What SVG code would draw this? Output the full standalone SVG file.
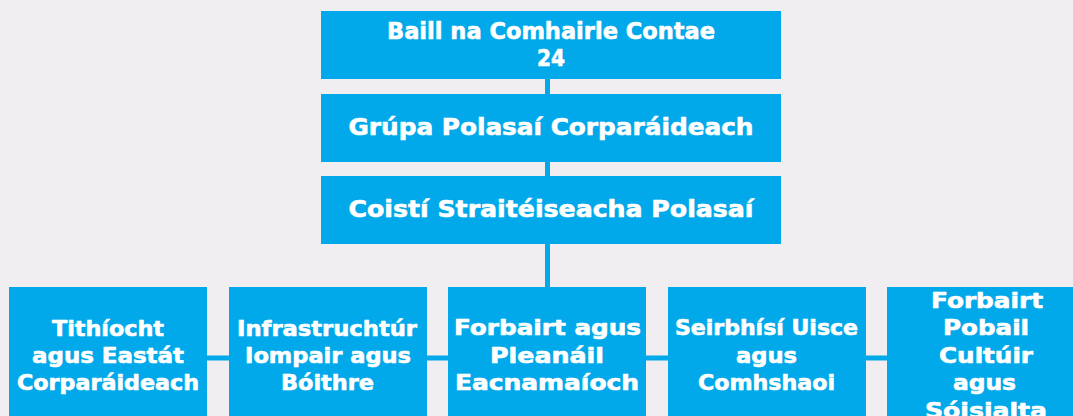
<svg xmlns="http://www.w3.org/2000/svg" width="1073" height="416" viewBox="0 0 1073 416">
<style>
.bg{fill:#F0EEF1}
.box{fill:#02A9EA}
.conn{stroke:#02A9EA;stroke-width:5;fill:none}
.t{font-family:"DejaVu Sans","Liberation Sans",sans-serif;font-weight:bold;fill:#FFFFFF;stroke:#FFFFFF;stroke-width:0.6;stroke-linejoin:round;text-anchor:middle}
.tl{font-size:22.5px}
.ts{font-size:20.5px}
</style>
<rect class="bg" x="0" y="0" width="1073" height="416"/>
<g id="connectors">
<line class="conn" x1="547.5" y1="79" x2="547.5" y2="94"/>
<line class="conn" x1="547.5" y1="162" x2="547.5" y2="176"/>
<line class="conn" x1="547.5" y1="244" x2="547.5" y2="287"/>
<line class="conn" x1="207" y1="358" x2="887" y2="358"/>
</g>
<g id="baill">
<rect class="box" x="321" y="11" width="460" height="68"/>
<text class="t tl" x="551" y="39" textLength="328" lengthAdjust="spacingAndGlyphs">Baill na Comhairle Contae</text>
<text class="t tl" x="551" y="66" textLength="28" lengthAdjust="spacingAndGlyphs">24</text>
</g>
<g id="grupa">
<rect class="box" x="321" y="94" width="460" height="68"/>
<text class="t tl" x="551" y="135" textLength="405" lengthAdjust="spacingAndGlyphs">Grúpa Polasaí Corparáideach</text>
</g>
<g id="coisti">
<rect class="box" x="321" y="176" width="460" height="68"/>
<text class="t tl" x="551" y="217" textLength="405" lengthAdjust="spacingAndGlyphs">Coistí Straitéiseacha Polasaí</text>
</g>
<g id="tithiocht">
<rect class="box" x="9" y="287" width="198" height="140"/>
<text class="t ts" x="108" y="336" textLength="112" lengthAdjust="spacingAndGlyphs">Tithíocht</text>
<text class="t ts" x="108" y="363" textLength="152" lengthAdjust="spacingAndGlyphs">agus Eastát</text>
<text class="t ts" x="108" y="390" textLength="182" lengthAdjust="spacingAndGlyphs">Corparáideach</text>
</g>
<g id="infrastruchtur">
<rect class="box" x="229" y="287" width="198" height="140"/>
<text class="t ts" x="327" y="336" textLength="180" lengthAdjust="spacingAndGlyphs">Infrastruchtúr</text>
<text class="t ts" x="328" y="363" textLength="166" lengthAdjust="spacingAndGlyphs">Iompair agus</text>
<text class="t ts" x="327.5" y="390" textLength="93" lengthAdjust="spacingAndGlyphs">Bóithre</text>
</g>
<g id="forbairt">
<rect class="box" x="448" y="287" width="198" height="140"/>
<text class="t ts" x="547.5" y="335" textLength="187" lengthAdjust="spacingAndGlyphs">Forbairt agus</text>
<text class="t ts" x="547" y="363" textLength="114" lengthAdjust="spacingAndGlyphs">Pleanáil</text>
<text class="t ts" x="547" y="390" textLength="184" lengthAdjust="spacingAndGlyphs">Eacnamaíoch</text>
</g>
<g id="seirbhisi">
<rect class="box" x="668" y="287" width="198" height="140"/>
<text class="t ts" x="766.5" y="335" textLength="183" lengthAdjust="spacingAndGlyphs">Seirbhísí Uisce</text>
<text class="t ts" x="766.5" y="363" textLength="61" lengthAdjust="spacingAndGlyphs">agus</text>
<text class="t ts" x="766.5" y="390" textLength="137" lengthAdjust="spacingAndGlyphs">Comhshaoi</text>
</g>
<g id="pobail">
<rect class="box" x="887" y="287" width="198" height="140"/>
<text class="t ts" x="987" y="308" textLength="112" lengthAdjust="spacingAndGlyphs">Forbairt</text>
<text class="t ts" x="986" y="335" textLength="86" lengthAdjust="spacingAndGlyphs">Pobail</text>
<text class="t ts" x="986" y="363" textLength="94" lengthAdjust="spacingAndGlyphs">Cultúir</text>
<text class="t ts" x="984.5" y="390" textLength="63" lengthAdjust="spacingAndGlyphs">agus</text>
<text class="t ts" x="986" y="418" textLength="122" lengthAdjust="spacingAndGlyphs">Sóisialta</text>
</g>
</svg>
